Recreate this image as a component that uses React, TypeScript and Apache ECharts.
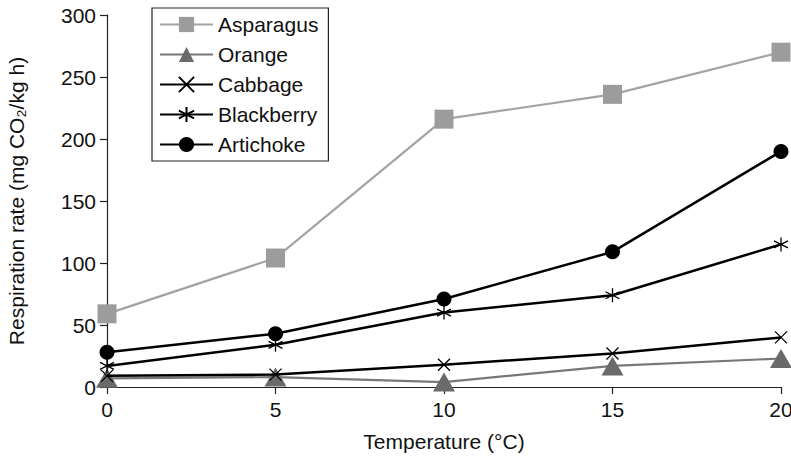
import React, { useEffect, useRef } from "react";
import * as echarts from "echarts";

const temperatures = [0, 5, 10, 15, 20];
const asparagus = [59, 104, 216, 236, 270];
const orange = [7, 8, 4, 17, 23];
const cabbage = [9, 10, 18, 27, 40];
const blackberry = [17, 34, 60, 74, 115];
const artichoke = [28, 43, 71, 109, 190];
const yTicks = { min: 0, max: 300, interval: 50 };
const xTicks = { min: 0, max: 20, interval: 5 };

const FONT = "Liberation Sans, Arial, sans-serif";
const FS = 21;
const crossPath = "path://M0,0L10,10M10,0L0,10";
const starPath = "path://M5,0L5,10M0.67,2.5L9.33,7.5M0.67,7.5L9.33,2.5";

function pairs(vals: number[]) {
  return temperatures.map((t, i) => [t, vals[i]]);
}

export default function App() {
  const ref = useRef<HTMLDivElement>(null);
  useEffect(() => {
    if (!ref.current) return;
    const chart = echarts.init(ref.current, undefined, { renderer: "svg" });
    chart.setOption({
      animation: false,
      backgroundColor: "#ffffff",
      textStyle: { fontFamily: FONT },
      grid: { left: 107, right: 10, top: 15, bottom: 74, containLabel: false, outerBoundsMode: "none" },
      legend: {
        orient: "vertical",
        left: 152,
        top: 8,
        padding: [6, 10, 6, 7],
        borderColor: "#222",
        borderWidth: 1.2,
        itemWidth: 53,
        itemHeight: 19,
        itemGap: 9,
        textStyle: { fontFamily: FONT, fontSize: FS, color: "#111" },
        data: ["Asparagus", "Orange", "Cabbage", "Blackberry", "Artichoke"],
      },
      xAxis: {
        type: "value",
        min: xTicks.min,
        max: xTicks.max,
        interval: xTicks.interval,
        name: "Temperature (°C)",
        nameLocation: "middle",
        nameGap: 44,
        nameTextStyle: { fontFamily: FONT, fontSize: FS, color: "#111" },
        axisLine: { show: true, lineStyle: { color: "#222", width: 1.2 } },
        axisTick: { show: true, length: 7, lineStyle: { color: "#222", width: 1.2 } },
        axisLabel: { fontFamily: FONT, fontSize: FS, color: "#111", margin: 12 },
        splitLine: { show: false },
      },
      yAxis: {
        type: "value",
        min: yTicks.min,
        max: yTicks.max,
        interval: yTicks.interval,
        name: "Respiration rate (mg CO₂/kg h)",
        nameLocation: "middle",
        nameGap: 80,
        nameTextStyle: { fontFamily: FONT, fontSize: FS, color: "#111" },
        axisLine: { show: true, lineStyle: { color: "#222", width: 1.2 } },
        axisTick: { show: true, length: 7, lineStyle: { color: "#222", width: 1.2 } },
        axisLabel: { fontFamily: FONT, fontSize: FS, color: "#111", margin: 11 },
        splitLine: { show: false },
      },
      series: [
        {
          name: "Asparagus",
          type: "line",
          data: pairs(asparagus),
          symbol: "rect",
          symbolSize: 19,
          clip: false,
          lineStyle: { color: "#a3a3a3", width: 2.2 },
          itemStyle: { color: "#9c9c9c" },
          z: 2,
        },
        {
          name: "Orange",
          type: "line",
          data: pairs(orange),
          symbol: "triangle",
          symbolSize: [22, 19],
          clip: false,
          lineStyle: { color: "#777777", width: 2.2 },
          itemStyle: { color: "#6a6a6a" },
          z: 3,
        },
        {
          name: "Cabbage",
          type: "line",
          data: pairs(cabbage),
          symbol: crossPath,
          symbolSize: 12,
          clip: false,
          lineStyle: { color: "#000", width: 2.5 },
          itemStyle: { color: "#000", borderColor: "#000", borderWidth: 1.3 },
          z: 4,
        },
        {
          name: "Blackberry",
          type: "line",
          data: pairs(blackberry),
          symbol: starPath,
          symbolSize: 14,
          clip: false,
          lineStyle: { color: "#000", width: 2.5 },
          itemStyle: { color: "#000", borderColor: "#000", borderWidth: 1.3 },
          z: 5,
        },
        {
          name: "Artichoke",
          type: "line",
          data: pairs(artichoke),
          symbol: "circle",
          symbolSize: 15,
          clip: false,
          lineStyle: { color: "#000", width: 2.5 },
          itemStyle: { color: "#000" },
          z: 6,
        },
      ],
    });
    return () => chart.dispose();
  }, []);
  return <div ref={ref} style={{ width: 791, height: 461, position: "absolute", left: 0, top: 0 }} />;
}
